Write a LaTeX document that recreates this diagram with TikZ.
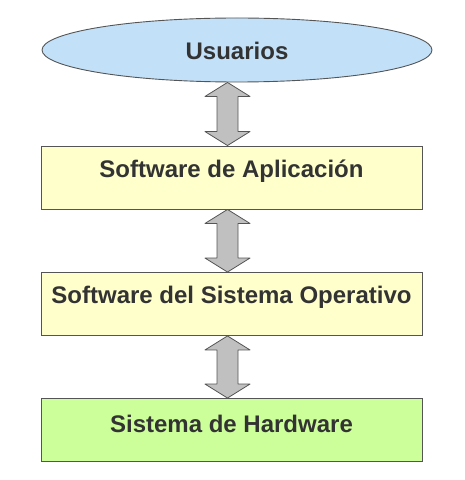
\documentclass[tikz,border=0pt]{standalone}
\usepackage{fontspec}
\setmainfont{Liberation Sans}
\usetikzlibrary{shapes.geometric,calc}
\definecolor{ublue}{HTML}{C2E1F9}
\definecolor{byellow}{HTML}{FFFFCC}
\definecolor{bgreen}{HTML}{CCFF99}
\definecolor{agray}{HTML}{C0C0C0}
\definecolor{edge}{HTML}{555555}
\tikzset{
  ell/.style={ellipse,draw=edge,line width=0.9pt,fill=ublue,minimum width=390pt,minimum height=64pt,inner sep=0pt},
  layer/.style={rectangle,draw=edge,line width=0.9pt,minimum width=381pt,minimum height=63pt,inner sep=0pt},
  lbl/.style={font=\bfseries\fontsize{24}{26}\selectfont,text=black!80,inner sep=0pt},
  dblarrow/.style={draw=edge,line width=0.8pt,fill=agray,line join=round}
}
\newcommand{\vdblarrow}[2]{%
  \path[dblarrow] let \p1=(#1.south), \p2=(#2.north) in
    (227.5pt,\y1) -- (250pt,\y1-14pt) -- (238pt,\y1-14pt) -- (238pt,\y2+14pt) -- (250pt,\y2+14pt)
    -- (227.5pt,\y2) -- (205pt,\y2+14pt) -- (217pt,\y2+14pt) -- (217pt,\y1-14pt) -- (205pt,\y1-14pt) -- cycle;}
\begin{document}
\begin{tikzpicture}[x=1pt,y=1pt]
\useasboundingbox (0,0) rectangle (465,480);
\node[ell] (u) at (237,430) {};
\node[lbl] (tu) at (237,429) {Usuarios};
\node[layer,fill=byellow] (b1) at (231.5,302.5) {};
\node[lbl] (t1) at ($(b1.center)+(0,6)$) {Software de Aplicación};
\node[layer,fill=byellow] (b2) at (231.5,176) {};
\node[lbl] (t2) at ($(b2.center)+(0,6.5)$) {Software del Sistema Operativo};
\node[layer,fill=bgreen] (b3) at (231.5,50) {};
\node[lbl] (t3) at ($(b3.center)+(0,6)$) {Sistema de Hardware};
\vdblarrow{u}{b1}
\vdblarrow{b1}{b2}
\vdblarrow{b2}{b3}
\end{tikzpicture}
\end{document}
